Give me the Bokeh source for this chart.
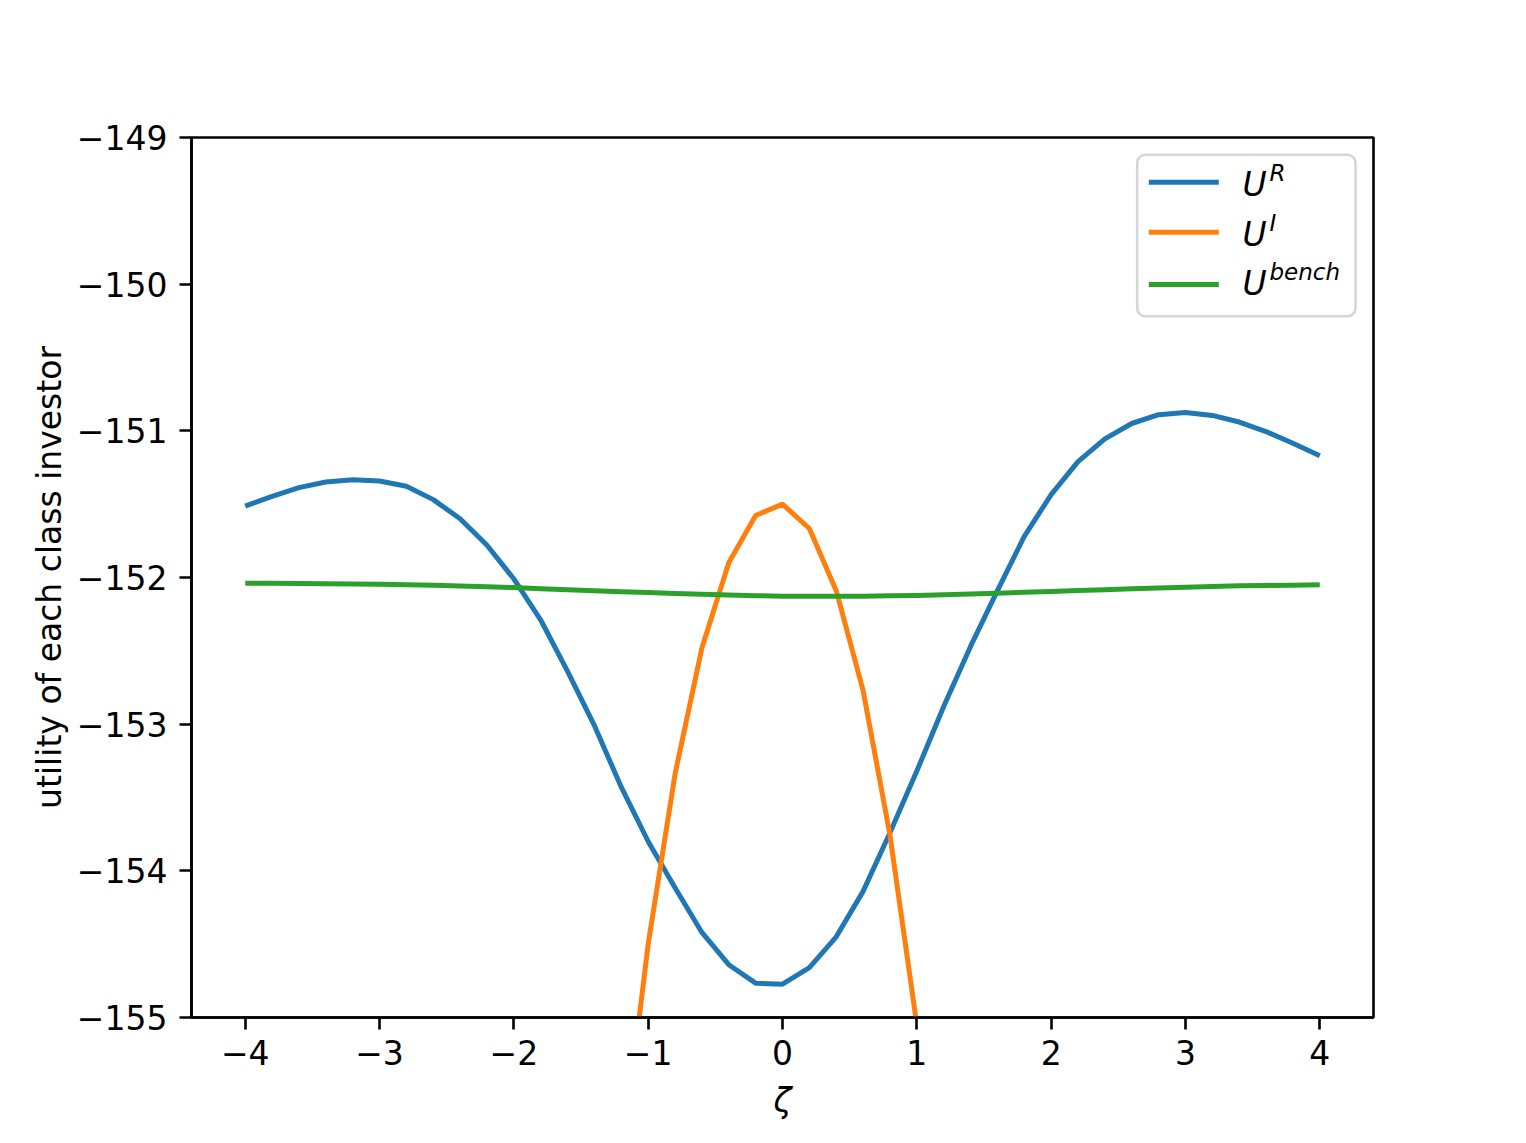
from bokeh.plotting import figure
from bokeh.models import Range1d, FixedTicker, Label, Arrow, BoxAnnotation
from bokeh.embed import file_html
from bokeh.resources import INLINE

# ---- data ----
zeta = [-4.0, -3.8, -3.6, -3.4, -3.2, -3.0, -2.8, -2.6, -2.4, -2.2, -2.0,
        -1.8, -1.6, -1.4, -1.2, -1.0, -0.8, -0.6, -0.4, -0.2, 0.0,
        0.2, 0.4, 0.6, 0.8, 1.0, 1.2, 1.4, 1.6, 1.8, 2.0,
        2.2, 2.4, 2.6, 2.8, 3.0, 3.2, 3.4, 3.6, 3.8, 4.0]

U_R = [-151.513, -151.447, -151.387, -151.349, -151.333, -151.342, -151.378, -151.469,
       -151.600, -151.780, -152.010, -152.290, -152.640, -153.010, -153.430, -153.800,
       -154.115, -154.420, -154.640, -154.766, -154.773, -154.660, -154.450, -154.140,
       -153.740, -153.320, -152.880, -152.470, -152.090, -151.720, -151.435, -151.210,
       -151.055, -150.950, -150.890, -150.875, -150.895, -150.940, -151.005, -151.085,
       -151.170]

zeta_I = [-1.2, -1.0, -0.8, -0.6, -0.4, -0.2, 0.0, 0.2, 0.4, 0.6, 0.8, 1.0]
U_I = [-156.00, -154.50, -153.34, -152.48, -151.90, -151.577, -151.50, -151.666,
       -152.09, -152.77, -153.756, -155.05]

U_bench = [-152.040, -152.040, -152.041, -152.042, -152.044, -152.046, -152.049, -152.053,
           -152.058, -152.063, -152.069, -152.076, -152.083, -152.090, -152.097, -152.103,
           -152.109, -152.115, -152.120, -152.124, -152.127, -152.128, -152.128, -152.127,
           -152.125, -152.122, -152.118, -152.113, -152.107, -152.101, -152.095, -152.089,
           -152.083, -152.077, -152.071, -152.066, -152.061, -152.057, -152.054, -152.052,
           -152.050]

x_ticks = [-4, -3, -2, -1, 0, 1, 2, 3, 4]
x_tick_labels = ["\u22124", "\u22123", "\u22122", "\u22121", "0", "1", "2", "3", "4"]
y_ticks = [-155, -154, -153, -152, -151, -150, -149]
y_tick_labels = ["\u2212155", "\u2212154", "\u2212153", "\u2212152", "\u2212151", "\u2212150", "\u2212149"]

series_labels = [("U", "R"), ("U", "I"), ("U", "bench")]
colors = ["#1f77b4", "#ff7f0e", "#2ca02c"]

FONT = "DejaVu Sans"

p = figure(width=1510, height=1127, output_backend="svg", toolbar_location=None,
           x_range=Range1d(-4.4, 4.4), y_range=Range1d(-155, -149),
           min_border_left=191, min_border_right=137, min_border_top=137,
           min_border_bottom=110)

p.background_fill_color = "white"
p.border_fill_color = "white"
p.outline_line_color = "black"
p.outline_line_width = 2.6
p.xgrid.visible = False
p.ygrid.visible = False

p.xaxis.ticker = FixedTicker(ticks=x_ticks)
p.yaxis.ticker = FixedTicker(ticks=y_ticks)
p.xaxis.major_label_overrides = dict(zip(x_ticks, x_tick_labels))
p.yaxis.major_label_overrides = dict(zip(y_ticks, y_tick_labels))

for ax in (p.xaxis[0], p.yaxis[0]):
    ax.axis_line_color = "black"
    ax.axis_line_width = 2.6
    ax.major_tick_line_color = "black"
    ax.major_tick_line_width = 2.6
    ax.major_tick_out = 12
    ax.major_tick_in = 0
    ax.minor_tick_line_color = None
    ax.major_label_text_font = FONT
    ax.major_label_text_font_size = "33px"
    ax.major_label_text_color = "black"
    ax.axis_label_text_font = FONT
    ax.axis_label_text_font_size = "33px"
    ax.axis_label_text_color = "black"

p.xaxis.major_label_standoff = 10
p.yaxis.major_label_standoff = 12
p.xaxis.axis_label = "\u03b6"
p.xaxis.axis_label_text_font_style = "italic"
p.xaxis.axis_label_standoff = 13
p.yaxis.axis_label = "utility of each class investor"
p.yaxis.axis_label_text_font_style = "normal"
p.yaxis.axis_label_standoff = 5

p.line(zeta, U_R, line_color=colors[0], line_width=5, line_join="round")
p.line(zeta_I, U_I, line_color=colors[1], line_width=5, line_join="round")
p.line(zeta, U_bench, line_color=colors[2], line_width=5, line_join="round")

# ---- legend (screen units relative to frame, y from bottom) ----
p.add_layout(BoxAnnotation(left=945.7, right=1164, top=862.7, bottom=701.3,
                           left_units="screen", right_units="screen",
                           top_units="screen", bottom_units="screen",
                           fill_color="white", fill_alpha=0.8,
                           line_color="#cccccc", line_alpha=0.8, line_width=2.6,
                           border_radius=8))

line_y = [835.3, 785.3, 733.0]
base_y = [833.0, 783.0, 734.5]
sup_y = [845.0, 795.0, 746.0]
for i, ((main, sup), c) in enumerate(zip(series_labels, colors)):
    p.add_layout(Arrow(x_start=957.3, y_start=line_y[i], x_end=1027.3, y_end=line_y[i],
                       start_units="screen", end_units="screen", start=None, end=None,
                       line_color=c, line_width=5))
    p.add_layout(Label(x=1051, y=base_y[i], x_units="screen", y_units="screen",
                       text=main, text_font=FONT, text_font_style="italic",
                       text_font_size="33px", text_baseline="alphabetic",
                       text_align="left", text_color="black"))
    p.add_layout(Label(x=1078, y=sup_y[i], x_units="screen", y_units="screen",
                       text=sup, text_font=FONT, text_font_style="italic",
                       text_font_size="23px", text_baseline="alphabetic",
                       text_align="left", text_color="black"))

open("out.html", "w").write(file_html(p, INLINE))
